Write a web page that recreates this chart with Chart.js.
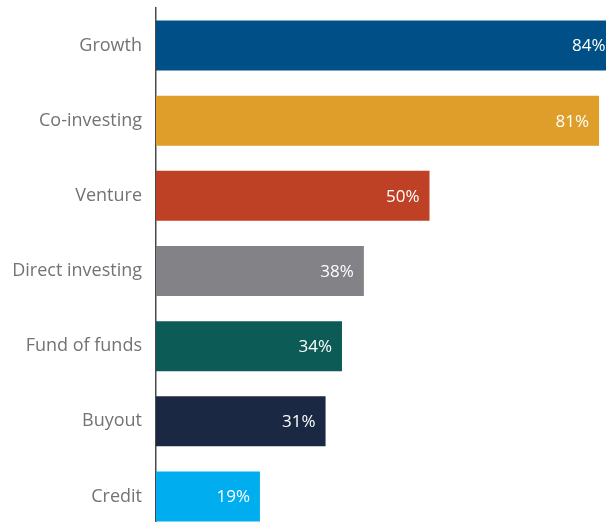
<!DOCTYPE html>
<html>
<head>
<meta charset="utf-8">
<script src="https://cdn.jsdelivr.net/npm/chart.js@4"></script>
<style>
  html, body { margin: 0; padding: 0; background: #fff; overflow: hidden; }
  #wrap { position: relative; width: 720px; height: 534px; }
</style>
</head>
<body>
<div id="wrap"><canvas id="strategyChart"></canvas></div>
<script>
const categories = ['Growth', 'Co-investing', 'Venture', 'Direct investing', 'Fund of funds', 'Buyout', 'Credit'];
const shares = [84, 81, 50, 38, 34, 31, 19];
const barColors = ['#004f86', '#de9e29', '#be4126', '#838387', '#0d5b57', '#1b2843', '#00aeef'];

// white percentage text sitting inside the end of each bar
const valueLabels = {
    id: 'valueLabels',
    afterDatasetsDraw(chart) {
        const ctx = chart.ctx;
        const meta = chart.getDatasetMeta(0);
        ctx.save();
        ctx.fillStyle = '#ffffff';
        ctx.font = '17px "Open Sans", sans-serif';
        ctx.textAlign = 'right';
        ctx.textBaseline = 'middle';
        meta.data.forEach((bar, i) => {
            ctx.fillText(shares[i] + '%', bar.x - 10, bar.y + 1);
        });
        ctx.restore();
    }
};

const ctxStrategy = document.getElementById('strategyChart').getContext('2d');
const strategyChart = new Chart(ctxStrategy, {
    type: 'bar',
    data: {
        labels: categories,
        datasets: [{
            data: shares,
            backgroundColor: barColors,
            borderWidth: 0,
            barPercentage: 0.665,
            categoryPercentage: 1
        }]
    },
    options: {
        indexAxis: 'y',
        responsive: true,
        maintainAspectRatio: false,
        animation: false,
        layout: {
            padding: { top: 8, right: 17, bottom: 0, left: 0 }
        },
        plugins: {
            legend: { display: false },
            tooltip: { enabled: false }
        },
        scales: {
            x: {
                min: 0,
                max: 100,
                display: false
            },
            y: {
                afterFit(scale) {
                    scale.width = 156;
                    scale.paddingTop = 0;
                    scale.paddingBottom = 0;
                },
                grid: { display: false, drawTicks: false },
                border: { display: true, color: '#4a4a4a', width: 1.5 },
                ticks: {
                    color: '#737373',
                    padding: 14,
                    font: { family: '"Open Sans", sans-serif', size: 18 }
                }
            }
        }
    },
    plugins: [valueLabels]
});
</script>
</body>
</html>
